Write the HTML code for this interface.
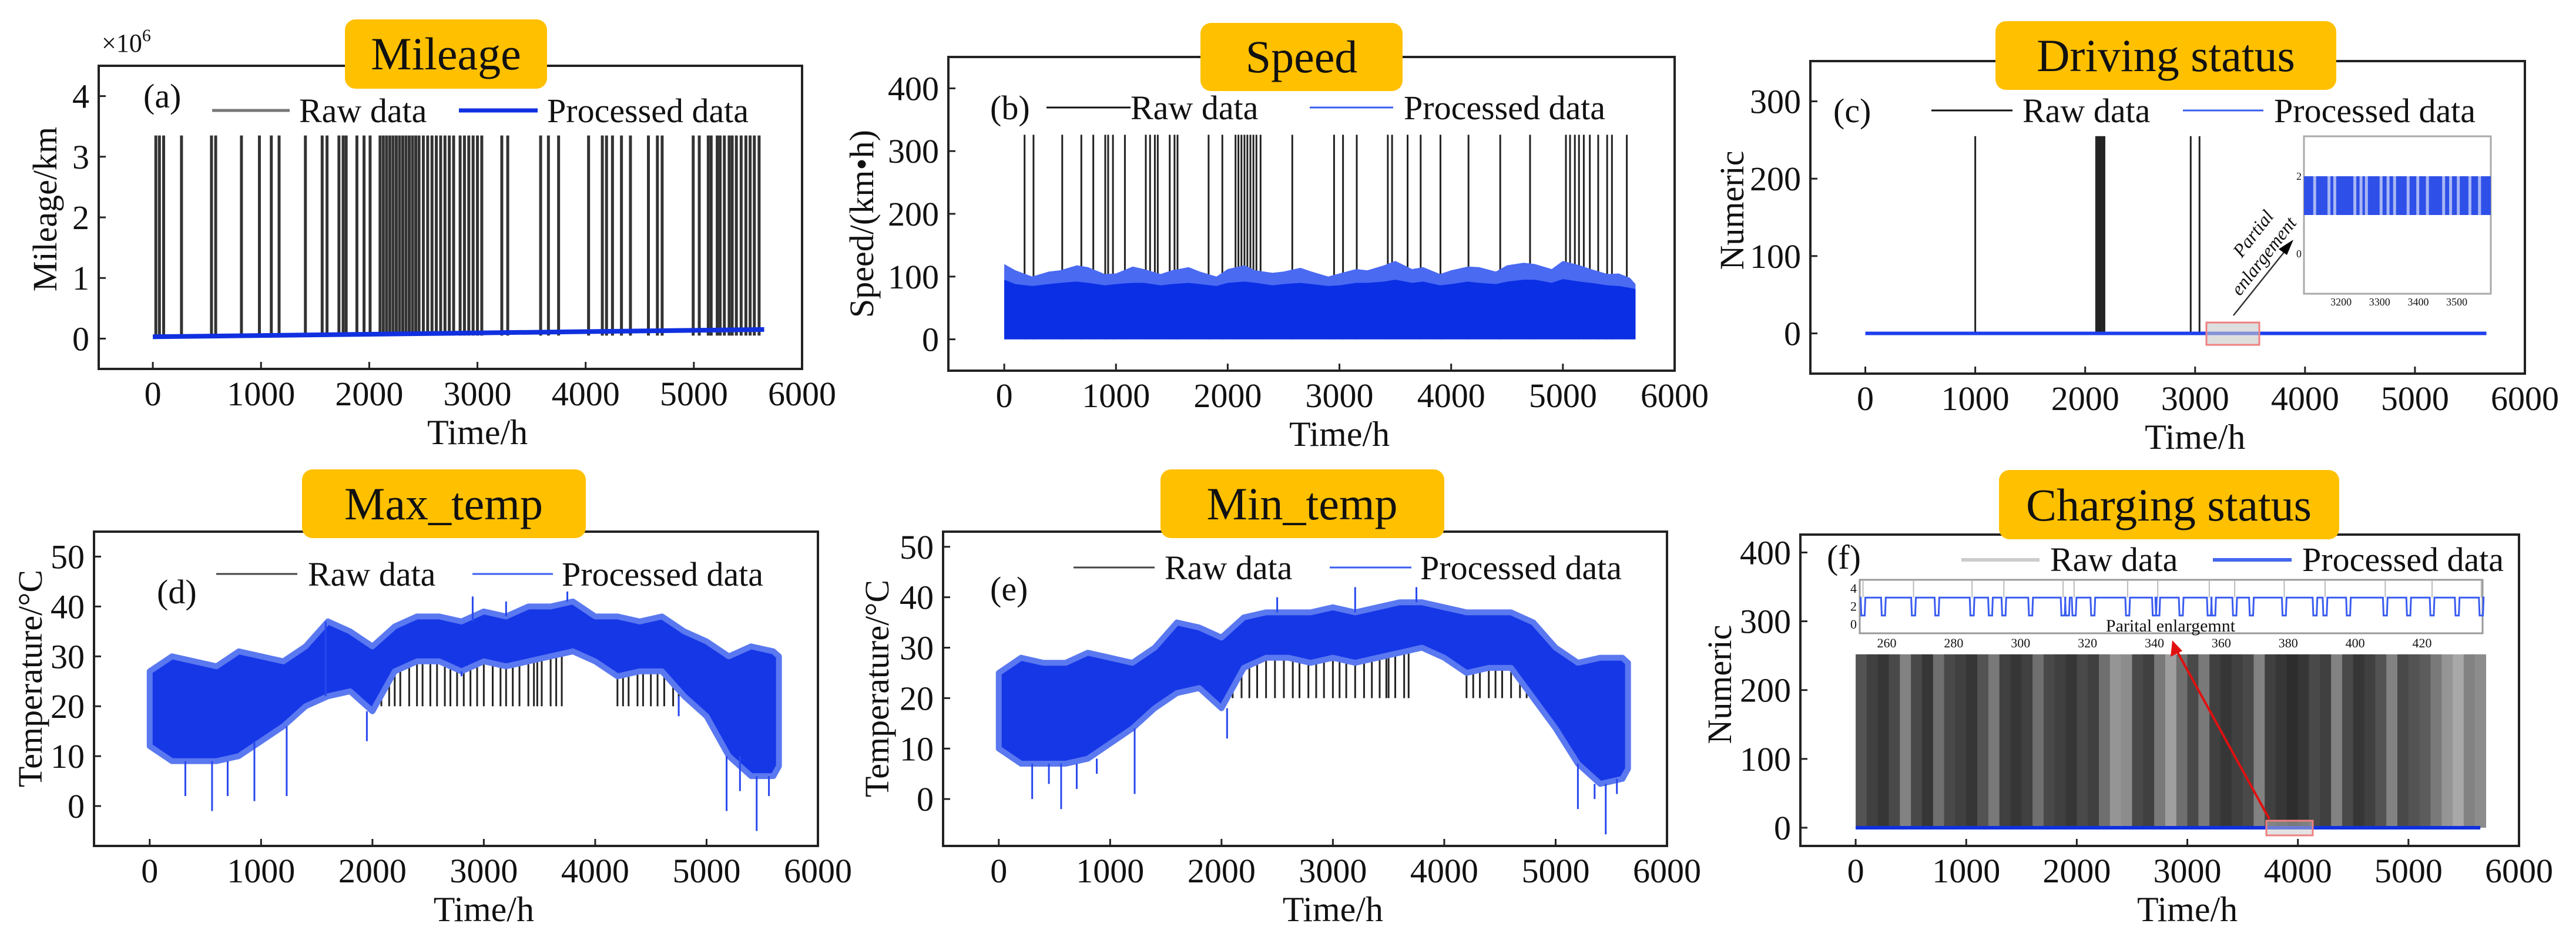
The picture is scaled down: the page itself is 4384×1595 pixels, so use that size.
<!DOCTYPE html>
<html><head><meta charset="utf-8"><style>
html,body{margin:0;padding:0;background:#fff;}
svg{display:block;font-family:"Liberation Serif","DejaVu Serif",serif;}
text{fill:#111;}
</style></head><body>
<svg id="fig" xmlns="http://www.w3.org/2000/svg" width="4384" height="1595" viewBox="0 0 4384 1595">
<rect x="0" y="0" width="4384" height="1595" fill="#fff"/>
<g id="marks"></g>
<g id="axes"></g>
<g id="static">
 <rect x="587" y="33" width="344" height="118" rx="18" fill="#FFC000"/>
 <text x="759" y="118" font-size="78" text-anchor="middle">Mileage</text>
 <rect x="2043" y="39" width="344" height="116" rx="18" fill="#FFC000"/>
 <text x="2215" y="123" font-size="78" text-anchor="middle">Speed</text>
 <rect x="3396" y="36" width="580" height="117" rx="18" fill="#FFC000"/>
 <text x="3686" y="121" font-size="78" text-anchor="middle">Driving status</text>
 <rect x="514" y="799" width="483" height="117" rx="18" fill="#FFC000"/>
 <text x="755" y="884" font-size="78" text-anchor="middle">Max_temp</text>
 <rect x="1975" y="799" width="483" height="117" rx="18" fill="#FFC000"/>
 <text x="2216" y="884" font-size="78" text-anchor="middle">Min_temp</text>
 <rect x="3402" y="800" width="579" height="118" rx="18" fill="#FFC000"/>
 <text x="3691" y="886" font-size="78" text-anchor="middle">Charging status</text>

 <text x="173" y="88" font-size="44">×10<tspan font-size="30" dy="-18">6</tspan></text>
 <text x="244" y="183" font-size="58">(a)</text>
 <line x1="361" y1="188" x2="493" y2="188" stroke="#777" stroke-width="5"/>
 <text x="509" y="208" font-size="58">Raw data</text>
 <line x1="781" y1="188" x2="915" y2="188" stroke="#1030e0" stroke-width="7"/>
 <text x="931" y="208" font-size="58">Processed data</text>

 <text x="1685" y="203" font-size="58">(b)</text>
 <line x1="1781" y1="183" x2="1924" y2="183" stroke="#111" stroke-width="3"/>
 <text x="1924" y="203" font-size="58">Raw data</text>
 <line x1="2229" y1="183" x2="2371" y2="183" stroke="#3a5cf0" stroke-width="3"/>
 <text x="2389" y="203" font-size="58">Processed data</text>

 <text x="3120" y="208" font-size="58">(c)</text>
 <line x1="3287" y1="188" x2="3425" y2="188" stroke="#111" stroke-width="3"/>
 <text x="3442" y="208" font-size="58">Raw data</text>
 <line x1="3715" y1="188" x2="3852" y2="188" stroke="#3a5cf0" stroke-width="3"/>
 <text x="3870" y="208" font-size="58">Processed data</text>

 <text x="267" y="1027" font-size="58">(d)</text>
 <line x1="368" y1="977" x2="506" y2="977" stroke="#444" stroke-width="3"/>
 <text x="524" y="997" font-size="58">Raw data</text>
 <line x1="804" y1="977" x2="941" y2="977" stroke="#3a5cf0" stroke-width="3"/>
 <text x="956" y="997" font-size="58">Processed data</text>

 <text x="1685" y="1022" font-size="58">(e)</text>
 <line x1="1827" y1="966" x2="1965" y2="966" stroke="#444" stroke-width="3"/>
 <text x="1982" y="986" font-size="58">Raw data</text>
 <line x1="2263" y1="966" x2="2402" y2="966" stroke="#3a5cf0" stroke-width="3"/>
 <text x="2417" y="986" font-size="58">Processed data</text>

 <text x="3109" y="968" font-size="58">(f)</text>
 <line x1="3338" y1="953" x2="3471" y2="953" stroke="#ccc" stroke-width="6"/>
 <text x="3489" y="972" font-size="58">Raw data</text>
 <line x1="3766" y1="953" x2="3900" y2="953" stroke="#4466ee" stroke-width="6"/>
 <text x="3918" y="972" font-size="58">Processed data</text>

 <text transform="translate(96,356) rotate(-90)" font-size="58" text-anchor="middle">Mileage/km</text>
 <text transform="translate(1486,381) rotate(-90)" font-size="58" text-anchor="middle">Speed/(km•h)</text>
 <text transform="translate(2967,358) rotate(-90)" font-size="58" text-anchor="middle">Numeric</text>
 <text transform="translate(71,1155) rotate(-90)" font-size="58" text-anchor="middle">Temperature/°C</text>
 <text transform="translate(1512,1172) rotate(-90)" font-size="58" text-anchor="middle">Temperature/°C</text>
 <text transform="translate(2946,1165) rotate(-90)" font-size="58" text-anchor="middle">Numeric</text>
</g>
</svg>
<script>
var xTicks = [0,1000,2000,3000,4000,5000,6000];
var yTicksA = [0,1,2,3,4];
var yTicksB = [0,100,200,300,400];
var yTicksC = [0,100,200,300];
var yTicksD = [0,10,20,30,40,50];
var yTicksE = [0,10,20,30,40,50];
var yTicksF = [0,100,200,300,400];

var mileageSpikeHours = [28,61,100,265,542,581,819,985,1095,1167,1410,1565,1610,1720,1759,1787,1886,1952,2008,2100,2130,2160,2190,2220,2250,2280,2310,2340,2370,2400,2430,2460,2500,2540,2580,2620,2660,2700,2740,2780,2840,2880,2920,2960,3000,3040,3225,3280,3584,3656,3750,4027,4154,4193,4248,4331,4414,4580,4663,4707,4994,5050,5133,5160,5216,5243,5282,5326,5354,5393,5437,5481,5520,5559,5603];
var mileageSpikeValue = 3.35;
var mileageHours = [0,5650];
var mileageValues = [0.03,0.15];

var speedSpikeHours = [182,262,519,690,797,904,930,973,1080,1267,1305,1348,1374,1481,1524,1551,1829,1952,2070,2096,2123,2150,2176,2203,2230,2257,2294,2578,2952,3032,3155,3433,3471,3610,3727,3904,4155,4439,4706,5027,5064,5107,5144,5187,5241,5316,5396,5439,5572];
var speedSpikeValue = 326;
var speedHours = [0,100,250,400,500,650,750,900,1000,1150,1250,1400,1500,1650,1750,1900,2000,2150,2250,2400,2500,2650,2750,2900,3000,3150,3250,3400,3500,3650,3750,3900,4000,4150,4250,4400,4500,4650,4750,4900,5000,5150,5250,5400,5500,5600,5650];
var speedUpper = [120,110,100,108,110,118,115,104,105,116,112,104,110,115,108,100,112,118,110,106,108,114,108,100,105,112,110,118,125,112,115,104,110,116,115,108,118,122,120,112,125,118,112,104,105,98,88];
var speedDense = [95,88,85,88,90,92,90,86,88,90,90,86,88,90,88,85,90,92,90,86,88,90,88,85,86,90,90,92,95,90,92,86,88,92,90,88,92,95,95,90,96,92,90,86,85,82,80];

var drivingSpikeHours = [1000,2100,2115,2130,2145,2160,2175,2960,3040];
var drivingSpikeValue = 255;
var drivingInsetTicks = [3200,3300,3400,3500];
var drivingInsetGaps = [3128,3165,3180,3232,3248,3262,3300,3318,3335,3370,3395,3420,3462,3480,3500,3530,3555];

var tempHours = [0,200,400,600,800,1000,1200,1400,1600,1800,2000,2200,2400,2600,2800,3000,3200,3400,3600,3800,4000,4200,4400,4600,4800,5000,5200,5400,5600,5650];
var maxUpper = [27,30,29,28,31,30,29,32,37,35,32,36,38,38,37,39,38,40,40,41,38,38,37,38,35,33,30,32,31,30];
var maxLower = [12,9,9,9,10,13,16,20,22,23,19,27,29,29,27,29,28,29,30,31,29,26,27,27,22,18,10,6,6,8];
var maxOutlierHours = [320,560,700,940,1230,1950,2800,4750,5180,5300,5450,5560,1580,2900,3200,3750];
var maxOutlierValues = [2,-1,2,1,2,13,26,18,-1,3,-5,2,37,42,41,43];
var maxRawHours = [2080,2150,2200,2250,2330,2400,2450,2520,2580,2650,2700,2760,2820,2880,2940,3000,3080,3150,3200,3260,3320,3400,3450,3480,3520,3600,3650,3700,4200,4250,4300,4380,4430,4500,4560,4620,4700,4750];
var maxRawValue = 20;

var minUpper = [25,28,27,27,29,28,27,30,35,34,32,36,37,37,37,38,37,38,39,39,38,37,37,37,35,30,27,28,28,27];
var minLower = [10,7,7,7,8,11,14,18,21,22,18,26,28,28,27,28,27,28,29,30,28,25,26,26,20,14,7,3,4,6];
var minOutlierHours = [300,560,700,1220,2050,5200,5350,5450,5550,2500,3200,3750,450,880];
var minOutlierValues = [0,-2,2,1,12,-2,0,-7,1,40,42,42,3,5];
var minRawHours = [2100,2180,2250,2320,2400,2480,2560,2640,2700,2780,2850,2920,3000,3060,3120,3200,3280,3350,3420,3480,3500,3560,3640,3680,4200,4260,4320,4400,4460,4520,4600,4680,4740];
var minRawValue = 20;

var chargeBinHours = [0,100,200,300,400,500,600,700,800,900,1000,1100,1200,1300,1400,1500,1600,1700,1800,1900,2000,2100,2200,2300,2400,2500,2600,2700,2800,2900,3000,3100,3200,3300,3400,3500,3600,3700,3800,3900,4000,4100,4200,4300,4400,4500,4600,4700,4800,4900,5000,5100,5200,5300,5400,5500,5600];
var chargeShade = [0.25,0.15,0.1,0.2,0.5,0.2,0.1,0.4,0.2,0.15,0.1,0.25,0.45,0.15,0.1,0.15,0.4,0.2,0.15,0.1,0.2,0.15,0.4,0.6,0.55,0.2,0.15,0.45,0.65,0.4,0.2,0.45,0.15,0.1,0.15,0.2,0.5,0.15,0.1,0.05,0.1,0.2,0.15,0.5,0.2,0.1,0.15,0.25,0.5,0.2,0.25,0.3,0.45,0.6,0.7,0.5,0.55];
var chargeRawValue = 252;
var chargeInsetTicks = [260,280,300,320,340,360,380,400,420];
var chargeInsetYTicks = [0,2,4];
var chargeDipHours = [252.9,259,268,275,285.5,291,295,303,312.7,314,316,321.6,332,340,341,348,356.4,357.7,364,369,378.8,388,391,398,409,416,423,430.5,437.7];
var chargeHigh = 3;
var chargeLow = 1;

var NS = 'http://www.w3.org/2000/svg';
var marksG = document.getElementById('marks');
var axesG = document.getElementById('axes');
function mk(tag, attrs, parent) {
  var el = document.createElementNS(NS, tag);
  for (var k in attrs) el.setAttribute(k, attrs[k]);
  (parent || marksG).appendChild(el);
  return el;
}
function scale(d0, d1, r0, r1) { return function (v) { return r0 + (v - d0) / (d1 - d0) * (r1 - r0); }; }

var panels = {
  a: {L:168,R:1365,T:112,B:628,xd:[-500,6000],yd:[-0.5,4.5],yt:yTicksA},
  b: {L:1614,R:2850,T:97,B:631,xd:[-500,6000],yd:[-50,450],yt:yTicksB},
  c: {L:3081,R:4297,T:104,B:636,xd:[-500,6000],yd:[-52,352],yt:yTicksC},
  d: {L:160,R:1392,T:905,B:1440,xd:[-500,6000],yd:[-8,55],yt:yTicksD},
  e: {L:1605,R:2837,T:905,B:1440,xd:[-500,6000],yd:[-9.3,53],yt:yTicksE},
  f: {L:3064,R:4287,T:910,B:1440,xd:[-500,6000],yd:[-26.5,426],yt:yTicksF}
};
for (var key in panels) {
  var p = panels[key];
  p.x = scale(p.xd[0], p.xd[1], p.L, p.R);
  p.y = scale(p.yd[0], p.yd[1], p.B, p.T);
}

function drawAxes(key) {
  var p = panels[key];
  var box = mk('rect', {x:p.L, y:p.T, width:p.R-p.L, height:p.B-p.T, fill:'none', stroke:'#222', 'stroke-width':4}, axesG);
  
  
  xTicks.forEach(function (t) {
    var X = p.x(t);
    var tk = mk('line', {x1:X, x2:X, y1:p.B, y2:p.B-12, stroke:'#222', 'stroke-width':3}, axesG);
    
    
    var lb = mk('text', {x:X, y:p.B+62, 'font-size':58, 'text-anchor':'middle'}, axesG);
    
    
    lb.textContent = t;
  });
  p.yt.forEach(function (t) {
    var Y = p.y(t);
    var tk = mk('line', {x1:p.L, x2:p.L+12, y1:Y, y2:Y, stroke:'#222', 'stroke-width':3}, axesG);
    
    
    var lb = mk('text', {x:p.L-16, y:Y+20, 'font-size':58, 'text-anchor':'end'}, axesG);
    
    
    lb.textContent = t;
  });
  var xt = mk('text', {x:p.x(3000), y:p.B+128, 'font-size':60, 'text-anchor':'middle'}, axesG);
  
  
  xt.textContent = 'Time/h';
}

function spikes(key, hours, v0, v1, color, w, name) {
  var p = panels[key];
  hours.forEach(function (h) {
    var l = mk('line', {x1:p.x(h), x2:p.x(h), y1:p.y(v0), y2:p.y(v1), stroke:color, 'stroke-width':w});
    
    
  });
}

(function () {
  var p = panels.a;
  spikes('a', mileageSpikeHours, 0.05, mileageSpikeValue, '#333', 5, 'raw-mileage-spike');
  var pl = mk('polyline', {points: mileageHours.map(function (h, i) { return p.x(h) + ',' + p.y(mileageValues[i]); }).join(' '), fill:'none', stroke:'#1030e0', 'stroke-width':8});
  
  
})();

(function () {
  var p = panels.b;
  spikes('b', speedSpikeHours, 0, speedSpikeValue, '#222', 3, 'raw-speed-spike');
  var pts = [p.x(speedHours[0]) + ',' + p.y(0)];
  speedHours.forEach(function (h, i) { pts.push(p.x(h) + ',' + p.y(speedUpper[i])); });
  pts.push(p.x(speedHours[speedHours.length-1]) + ',' + p.y(0));
  var a1 = mk('polygon', {points: pts.join(' '), fill:'#4a6af2'});
  
  
  var pts2 = [p.x(speedHours[0]) + ',' + p.y(0)];
  speedHours.forEach(function (h, i) { pts2.push(p.x(h) + ',' + p.y(speedDense[i])); });
  pts2.push(p.x(speedHours[speedHours.length-1]) + ',' + p.y(0));
  var a2 = mk('polygon', {points: pts2.join(' '), fill:'#0a2fe4'});
  
  
})();

(function () {
  var p = panels.c;
  spikes('c', drivingSpikeHours, 0, drivingSpikeValue, '#222', 3, 'raw-driving-spike');
  var ln = mk('line', {x1:p.x(0), x2:p.x(5650), y1:p.y(0), y2:p.y(0), stroke:'#1f40ee', 'stroke-width':6});
  
  
  var rb = mk('rect', {x:3755, y:549, width:90, height:38, fill:'rgba(200,200,200,0.6)', stroke:'#f08080', 'stroke-width':3});
  
  
  var ar = mk('line', {x1:3801, y1:537, x2:3893, y2:422, stroke:'#333', 'stroke-width':2.5});
  
  
  var ah = mk('polygon', {points:'3903,408 3878,424 3892,434'});
  
  
  var t1 = mk('text', {x:0, y:0, 'font-size':32, transform:'translate(3815,440) rotate(-52)', 'font-style':'italic'});
  
  
  t1.textContent = 'Partial';
  var t2 = mk('text', {x:0, y:0, 'font-size':32, transform:'translate(3812,505) rotate(-52)', 'font-style':'italic'});
  
  
  t2.textContent = 'enlargement';
  var ix = scale(3104, 3588, 3921, 4239), iy = scale(0, 2, 432, 300);
  var ib = mk('rect', {x:3921, y:232, width:318, height:268, fill:'#fff', stroke:'#aaa', 'stroke-width':3});
  
  
  var band = mk('rect', {x:3921, y:iy(2), width:318, height:iy(1)-iy(2), fill:'#2f50e8'});
  
  
  drivingInsetGaps.forEach(function (h) {
    var g = mk('rect', {x:ix(h), y:iy(2), width:5, height:iy(1)-iy(2), fill:'#a8b6f4'});
    
    
  });
  drivingInsetTicks.forEach(function (t) {
    var l = mk('text', {x:ix(t), y:520, 'font-size':18, 'text-anchor':'middle', fill:'#555'});
    
    
    l.textContent = t;
  });
  [0,2].forEach(function (t) {
    var l = mk('text', {x:3917, y:iy(t)+6, 'font-size':18, 'text-anchor':'end', fill:'#555'});
    
    
    l.textContent = t;
  });
})();

function tempPanel(key, upper, lower, rawHours, rawValue, oHours, oValues) {
  var p = panels[key];
  spikes(key, rawHours, rawValue, 30, '#222', 3, 'raw-temp-spike-' + key);
  var pts = [];
  tempHours.forEach(function (h, i) { pts.push(p.x(h) + ',' + p.y(upper[i])); });
  for (var i = tempHours.length - 1; i >= 0; i--) pts.push(p.x(tempHours[i]) + ',' + p.y(lower[i]));
  var pg = mk('polygon', {points: pts.join(' '), fill:'#1637e6', stroke:'#5a78f0', 'stroke-width':10, 'stroke-linejoin':'round'});
  
  
  oHours.forEach(function (h, i) {
    var near = 0, best = 1e9;
    tempHours.forEach(function (th, j) { if (Math.abs(th - h) < best) { best = Math.abs(th - h); near = j; } });
    var base = oValues[i] > upper[near] ? upper[near] : lower[near];
    var l = mk('line', {x1:p.x(h), x2:p.x(h), y1:p.y(base), y2:p.y(oValues[i]), stroke:'#2848ee', 'stroke-width':3});
    
    
  });
}
tempPanel('d', maxUpper, maxLower, maxRawHours, maxRawValue, maxOutlierHours, maxOutlierValues);
tempPanel('e', minUpper, minLower, minRawHours, minRawValue, minOutlierHours, minOutlierValues);

(function () {
  var p = panels.f;
  chargeBinHours.forEach(function (h, i) {
    var s = chargeShade[i];
    var c = Math.round(35 + s * 190);
    var r = mk('rect', {x:p.x(h), y:p.y(chargeRawValue), width:p.x(h+100)-p.x(h)+0.5, height:p.y(0)-p.y(chargeRawValue), fill:'rgb(' + c + ',' + c + ',' + c + ')'});
    
    
  });
  var ln = mk('line', {x1:p.x(0), x2:p.x(5650), y1:p.y(0), y2:p.y(0), stroke:'#1030e0', 'stroke-width':6});
  
  
  var rb = mk('rect', {x:3857, y:1397, width:79, height:25, fill:'rgba(200,200,200,0.5)', stroke:'#f08080', 'stroke-width':3});
  
  
  var ar = mk('line', {x1:3862, y1:1394, x2:3703, y2:1105, stroke:'#e01010', 'stroke-width':4});
  
  
  var ah = mk('polygon', {points:'3697,1090 3694,1118 3714,1108', fill:'#e01010'});
  
  
  var ix = scale(260, 420, 3211, 4122), iy = scale(0, 4, 1063, 1002);
  var ib = mk('rect', {x:3165, y:987, width:1060, height:91, fill:'#fff', stroke:'#999', 'stroke-width':3});
  
  
  chargeDipHours.forEach(function (h, i) {
    if (i % 2 === 0) {
      var g = mk('line', {x1:ix(h), x2:ix(h), y1:989, y2:iy(chargeHigh), stroke:'#bbb', 'stroke-width':2});
      
      
    }
  });
  var pts = [ix(252) + ',' + iy(chargeHigh)];
  chargeDipHours.forEach(function (h) {
    pts.push(ix(h - 0.7) + ',' + iy(chargeHigh));
    pts.push(ix(h - 0.5) + ',' + iy(chargeLow));
    pts.push(ix(h + 0.5) + ',' + iy(chargeLow));
    pts.push(ix(h + 0.7) + ',' + iy(chargeHigh));
  });
  pts.push(ix(438) + ',' + iy(chargeHigh));
  var wl = mk('polyline', {points: pts.join(' '), fill:'none', stroke:'#3a5cf0', 'stroke-width':3});
  
  
  chargeInsetYTicks.forEach(function (t) {
    var l = mk('text', {x:3160, y:iy(t)+7, 'font-size':22, 'text-anchor':'end', fill:'#444'});
    
    
    l.textContent = t;
  });
  chargeInsetTicks.forEach(function (t) {
    var l = mk('text', {x:ix(t), y:1102, 'font-size':22, 'text-anchor':'middle', fill:'#444'});
    
    
    l.textContent = t;
  });
  var it = mk('text', {x:3694, y:1075, 'font-size':30, 'text-anchor':'middle', fill:'#333'});
  
  
  it.textContent = 'Parital enlargemnt';
})();

['a','b','c','d','e','f'].forEach(drawAxes);
var st = document.getElementById('static');
st.parentNode.appendChild(st);
</script>
</body></html>
